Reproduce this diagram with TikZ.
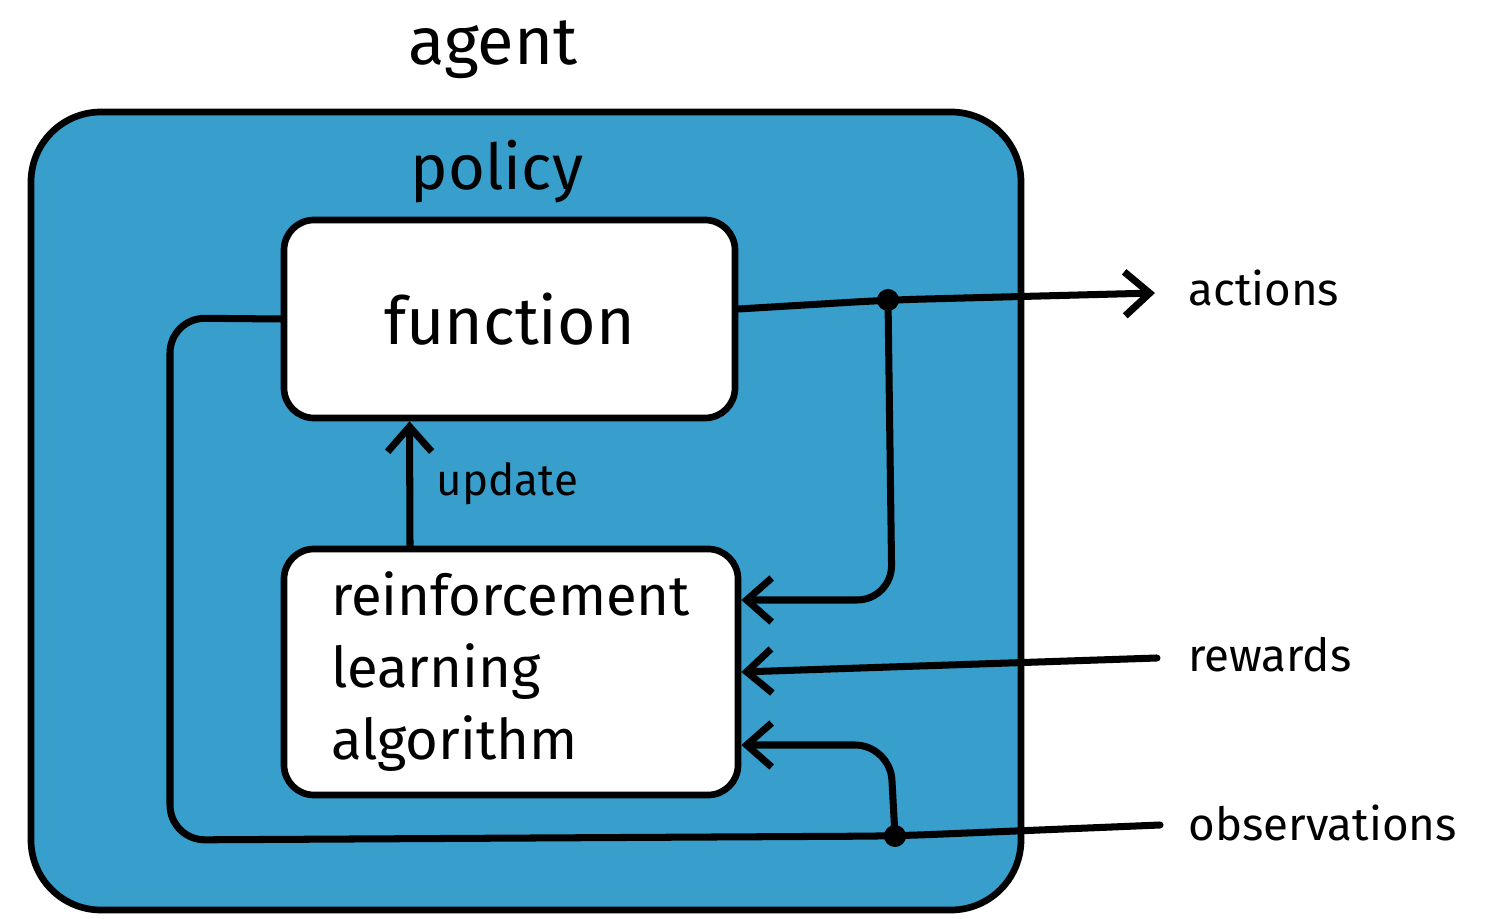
\documentclass[tikz,border=0pt]{standalone}
\usepackage{fontspec}
\setmainfont{Fira Sans}
\usetikzlibrary{arrows.meta}
\definecolor{agentblue}{RGB}{56,158,203}

\begin{document}
\begin{tikzpicture}[
    wire/.style={line width=2pt, line cap=round, rounded corners=0.35cm},
    arr/.style={wire, -{Straight Barb[length=2.5mm,width=4.4mm]}},
    box/.style={draw, line width=1.9pt, fill=white, rounded corners=0.3cm},
    lbl/.style={font=\fontsize{13}{15}\selectfont, anchor=west},
    dot/.style={circle, fill=black, inner sep=0pt, minimum size=2.2mm}]
		\useasboundingbox (0,0) rectangle (14.93,9.18);
		
		\node (agent) at (4.93,8.68) {\fontsize{19}{22}\selectfont agent};
		\node (outer) at (5.26,4.07) [draw, line width=1.9pt, fill=agentblue, rounded corners=0.7cm, minimum width=9.9cm, minimum height=7.98cm] {};
		\node (policy) at (4.97,7.46) {\fontsize{18}{21}\selectfont policy};
		
		\node (fun) at (5.095,5.99) [box, minimum width=4.51cm, minimum height=1.98cm] {\fontsize{18.8}{22}\selectfont function};
		\node (rl) at (5.11,2.46) [box, minimum width=4.54cm, minimum height=2.46cm, text width=3.6cm, align=left, font=\fontsize{16}{20.5}\selectfont] {reinforcement\\learning\\algorithm};
		
		\draw[arr] ([xshift=-1.01cm]rl.north) -- ([xshift=-1.0cm]fun.south) node (update) [midway, right=0.12cm, font=\fontsize{12.5}{15}\selectfont] {update};
		
		\coordinate (ja) at (8.88,6.18);
		\coordinate (jo) at (8.95,0.82);
		\coordinate (actend) at (11.55,6.25);
		\coordinate (rewstart) at (11.57,2.6);
		\coordinate (obsstart) at (11.6,0.93);
		
		\draw[arr] ([yshift=1mm]fun.east) -- (ja) -- (actend);
		\draw[arr] (ja) -- (8.92,3.18) -- ([yshift=0.72cm]rl.east);
		\draw[arr] (rewstart) -- (rl.east);
		\draw[wire] (obsstart) -- (jo) -- (1.7,0.78) -- (1.7,6.0) -- (fun.west);
		\draw[arr] (jo) -- (8.9,1.73) -- ([yshift=-0.73cm]rl.east);
		
		\node (ja dot) at (ja) [dot] {};
		\node (jo dot) at (jo) [dot] {};
		
		\node (actions) at (11.76,6.3) [lbl] {actions};
		\node (rewards) at (11.76,2.63) [lbl] {rewards};
		\node (observations) at (11.76,0.95) [lbl] {observations};
	\end{tikzpicture}
\end{document}
